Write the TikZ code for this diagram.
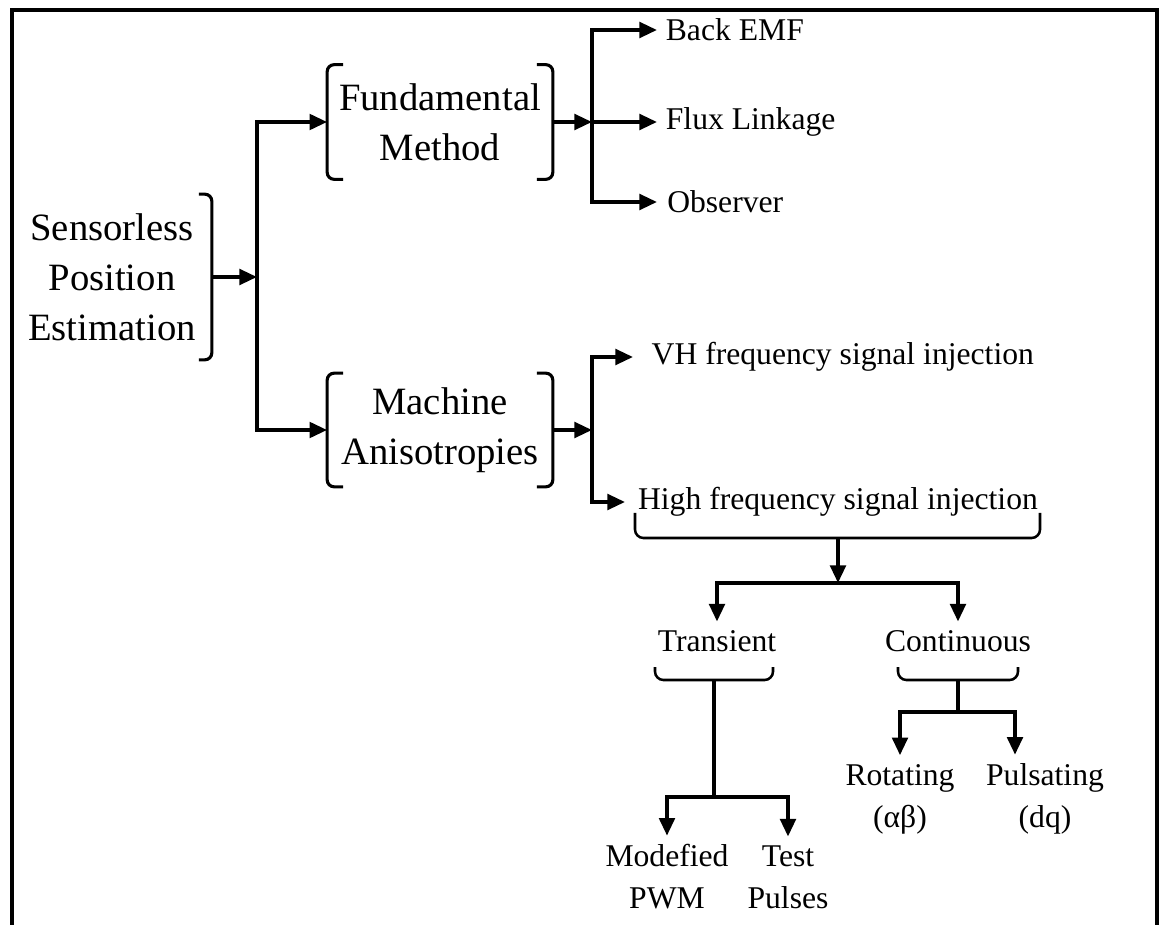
\documentclass[tikz,border=0pt]{standalone}
\usepackage{fontspec}
\setmainfont{Liberation Serif}
\usetikzlibrary{arrows.meta}
\usetikzlibrary{positioning}
\usetikzlibrary{calc}

\begin{document}
\begin{tikzpicture}[x=0.025cm,y=-0.025cm,>={Triangle[length=12.5pt,width=11pt]},line width=2.6pt]
 \tikzstyle{big node}=[align=center,inner sep=0pt,font=\fontsize{27.5}{35.6}\selectfont]
 \tikzstyle{leaf node}=[anchor=west,inner sep=0pt,inner xsep=5pt,font=\fontsize{22.5}{29}\selectfont]
 \tikzstyle{tree node}=[align=center,inner sep=5pt,font=\fontsize{22.5}{30}\selectfont]
 \tikzset{
 	brak/.style={line width=2.2pt,rounded corners=5pt},
 	brace/.style={line width=1.8pt,rounded corners=6pt},
 	flow/.style={->,line width=2.6pt}
 }
 \useasboundingbox (0,0) rectangle (1160,925);
 % frame
 \draw[line width=3.5pt] (12,925) -- (12,10) -- (1157,10) -- (1157,925);

       \node[big node,minimum width=4.9cm,minimum height=4.05cm] (spe) at (112,277) {Sensorless\\Position\\Estimation};
       \node[big node,minimum width=5.55cm,minimum height=2.775cm] (fm) at (440,122) {Fundamental\\Method};
       \node[big node,minimum width=5.55cm,minimum height=2.75cm] (ma) at (440,430) {Machine\\Anisotropies};

       \node[leaf node] (bemf) at (657,30) {Back EMF};
       \node[leaf node] (flux) at (657,122) {Flux Linkage};
       \node[leaf node,inner xsep=6pt] (obs) at (657,202) {Observer};
       \node[leaf node,inner xsep=12pt] (vh) at (633,357) {VH frequency signal injection};
       \node[leaf node,inner xsep=8pt] (hf) at (625,502) {High frequency signal injection};

       \node[tree node] (trans) at (717,641) {Transient};
       \node[tree node] (cont) at (958,641) {Continuous};
       \node[tree node] (mpwm) at (667,877) {Modefied\\PWM};
       \node[tree node] (tp) at (788,877) {Test\\Pulses};
       \node[tree node] (rot) at (900,799) {Rotating\\(αβ)};
       \node[tree node] (puls) at (1045,799) {Pulsating\\(dq)};

       \coordinate (s1) at (257,277);
       \coordinate (f1) at (592,122);
       \coordinate (m1) at (592,430);
       \coordinate (hb) at (838,538);
       \coordinate (h2) at (838,583);
       \coordinate (tb) at (714,680);
       \coordinate (t2) at (714,797);
       \coordinate (cb) at (958,680);
       \coordinate (k2) at (958,712);

 % brackets
     \draw[brak] ($(spe.north east)+(-13,0)$) -- (spe.north east) -- (spe.south east) -- ($(spe.south east)+(-13,0)$);
     \draw[brak] ($(fm.north west)+(16,0)$) -- (fm.north west) -- (fm.south west) -- ($(fm.south west)+(16,0)$);
     \draw[brak] ($(fm.north east)+(-16,0)$) -- (fm.north east) -- (fm.south east) -- ($(fm.south east)+(-16,0)$);
     \draw[brak] ($(ma.north west)+(16,0)$) -- (ma.north west) -- (ma.south west) -- ($(ma.south west)+(16,0)$);
     \draw[brak] ($(ma.north east)+(-16,0)$) -- (ma.north east) -- (ma.south east) -- ($(ma.south east)+(-16,0)$);
     \draw[brace] (635,513) -- (635,538) -- (1040,538) -- (1040,513);
     \draw[brace] (655,667) -- (655,680) -- (773,680) -- (773,667);
     \draw[brace] (898,667) -- (898,680) -- (1018,680) -- (1018,667);

 % connectors
     \draw[flow] (spe.east) -- (s1);
     \draw[flow] (s1) |- (fm.west);
     \draw[flow] (s1) |- (ma.west);

     \draw[flow] (fm.east) -- (f1);
     \draw[flow] (f1) |- (bemf.west);
     \draw[flow] (f1) -- (flux.west);
     \draw[flow] (f1) |- (obs.west);

     \draw[flow] (ma.east) -- (m1);
     \draw[flow] (m1) |- (vh.west);
     \draw[flow] (m1) |- (hf.west);

     \draw[flow] (hb) -- (h2);
     \draw[flow] (h2) -| (trans.north);
     \draw[flow] (h2) -| (cont.north);

     \draw (tb) -- (t2);
     \draw[flow] (t2) -| (mpwm.north);
     \draw[flow] (t2) -| (tp.north);

     \draw (cb) -- (k2);
     \draw[flow] (k2) -| (rot.north);
     \draw[flow] (k2) -| ($(puls.north)+(-30,0)$);
 \end{tikzpicture}
\end{document}
